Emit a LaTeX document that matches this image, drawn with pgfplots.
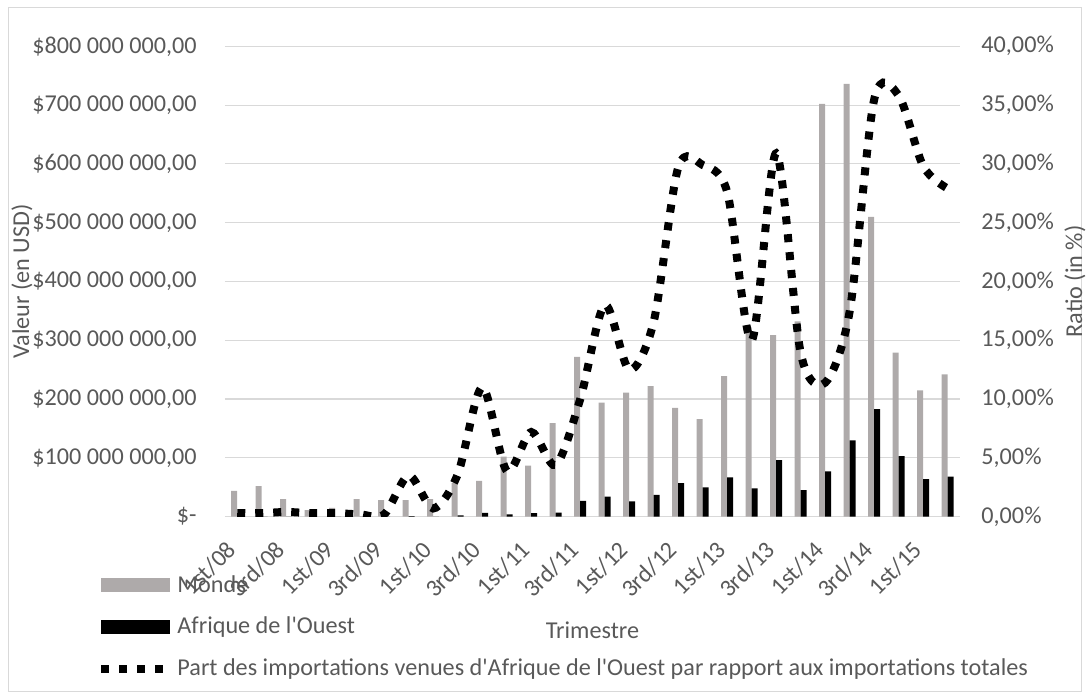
\documentclass[border=0pt]{standalone}
\usepackage{fontspec}
\setmainfont{Carlito}
\usepackage{pgfplots}
\pgfplotsset{compat=1.18}
\definecolor{txt}{HTML}{595959}
\definecolor{grd}{HTML}{D9D9D9}
\definecolor{monde}{RGB}{174,170,170}
\newcommand{\ff}{\fontsize{12.1pt}{14.5pt}\selectfont}

\begin{document}
\begin{tikzpicture}
\useasboundingbox (0pt,0pt) rectangle (544.5pt,350pt);
\draw[grd, line width=0.5pt] (4pt,4pt) rectangle (540.5pt,346pt);

\begin{axis}[
  at={(112.5pt,91.65pt)}, anchor=south west,
  scale only axis, width=367.5pt, height=235.2pt,
  xmin=-0.5, xmax=29.5, ymin=0, ymax=800,
  enlargelimits=false,
  axis line style={draw=none},
  major tick length=0pt,
  ymajorgrids, grid style={grd, line width=0.6pt},
  ybar=0pt, bar width=3pt,
  ytick={0,100,...,800},
  yticklabels={{\$-\hspace{7pt}},{\$100 000 000,00},{\$200 000 000,00},{\$300 000 000,00},{\$400 000 000,00},{\$500 000 000,00},{\$600 000 000,00},{\$700 000 000,00},{\$800 000 000,00}},
  yticklabel style={anchor=east, inner sep=0pt, xshift=-14pt, font=\ff, text=txt},
  xtick={0,2,...,28},
  xticklabels={1st/08,3rd/08,1st/09,3rd/09,1st/10,3rd/10,1st/11,3rd/11,1st/12,3rd/12,1st/13,3rd/13,1st/14,3rd/14,1st/15},
  xticklabel style={inner sep=0pt, yshift=-14.5pt, xshift=-2.5pt, rotate=45, anchor=east, font=\ff, text=txt},
  xlabel={Trimestre},
  xlabel style={at={(axis description cs:0.5,-0.2409)}, anchor=center, font=\ff, text=txt},
  ylabel={Valeur (en USD)},
  ylabel style={at={(axis description cs:-0.2762,0.5)}, anchor=center, font=\ff, text=txt},
]
% Monde (millions USD)
\addplot[fill=monde, draw=none] coordinates {
(0,44) (1,52) (2,30) (3,11) (4,15) (5,30) (6,28) (7,28) (8,30) (9,57)
(10,61) (11,102) (12,87) (13,159) (14,272) (15,194) (16,211) (17,222) (18,185) (19,166)
(20,239) (21,322) (22,309) (23,332) (24,702) (25,736) (26,510) (27,279) (28,215) (29,242)};
% Afrique de l'Ouest (millions USD)
\addplot[fill=black, draw=none] coordinates {
(0,0.13) (1,0.16) (2,0.12) (3,0.03) (4,0.05) (5,0.06) (6,0.06) (7,1.0) (8,0.2) (9,2.1)
(10,6.7) (11,4.0) (12,6.2) (13,7.0) (14,27) (15,34) (16,26) (17,37) (18,57) (19,50)
(20,67) (21,48) (22,96) (23,45) (24,77) (25,130) (26,183) (27,103) (28,64) (29,68)};
\end{axis}

\begin{axis}[
  at={(112.5pt,91.65pt)}, anchor=south west,
  scale only axis, width=367.5pt, height=235.2pt,
  xmin=-0.5, xmax=29.5, ymin=0, ymax=40,
  enlargelimits=false,
  axis y line*=right, axis x line=none,
  axis line style={draw=none},
  major tick length=0pt,
  ytick={0,5,...,40},
  yticklabels={{0,00\%},{5,00\%},{10,00\%},{15,00\%},{20,00\%},{25,00\%},{30,00\%},{35,00\%},{40,00\%}},
  yticklabel style={anchor=west, inner sep=0pt, xshift=10.5pt, font=\ff, text=txt},
  ylabel={Ratio (in \%)},
  ylabel style={at={(axis description cs:1.1565,0.5)}, anchor=center, font=\ff, text=txt},
  legend style={at={(axis description cs:-0.1741,-0.1154)}, anchor=north west, draw=none, fill=none,
    inner sep=0pt, font=\ff, text=txt, row sep=7pt,
    /tikz/every even column/.append style={column sep=4pt}},
  legend cell align=left,
]
\addlegendimage{legend image code/.code={\fill[monde] (0pt,-3.25pt) rectangle (34pt,3.25pt);}}
\addlegendentry{Monde}
\addlegendimage{legend image code/.code={\fill[black] (0pt,-3.25pt) rectangle (34pt,3.25pt);}}
\addlegendentry{Afrique de l\textquotesingle Ouest}
\addplot[smooth, black, line width=4pt, dash pattern=on 4pt off 5pt,
  legend image code/.code={\draw[black, line width=4pt, dash pattern=on 4pt off 5pt] (0pt,0pt) -- (34pt,0pt);}]
coordinates {
(0,0.3) (1,0.3) (2,0.4) (3,0.3) (4,0.3) (5,0.2) (6,0.2) (7,3.5) (8,0.7) (9,3.6)
(10,11.0) (11,3.9) (12,7.2) (13,4.4) (14,10.0) (15,18.0) (16,12.5) (17,16.6) (18,29.7) (19,29.9)
(20,27.6) (21,15.0) (22,30.9) (23,13.9) (24,11.4) (25,17.5) (26,35.5) (27,35.8) (28,29.8) (29,27.9)};
\addlegendentry{Part des importations venues d\textquotesingle Afrique de l\textquotesingle Ouest par rapport aux importations totales}
\end{axis}
\end{tikzpicture}
\end{document}
